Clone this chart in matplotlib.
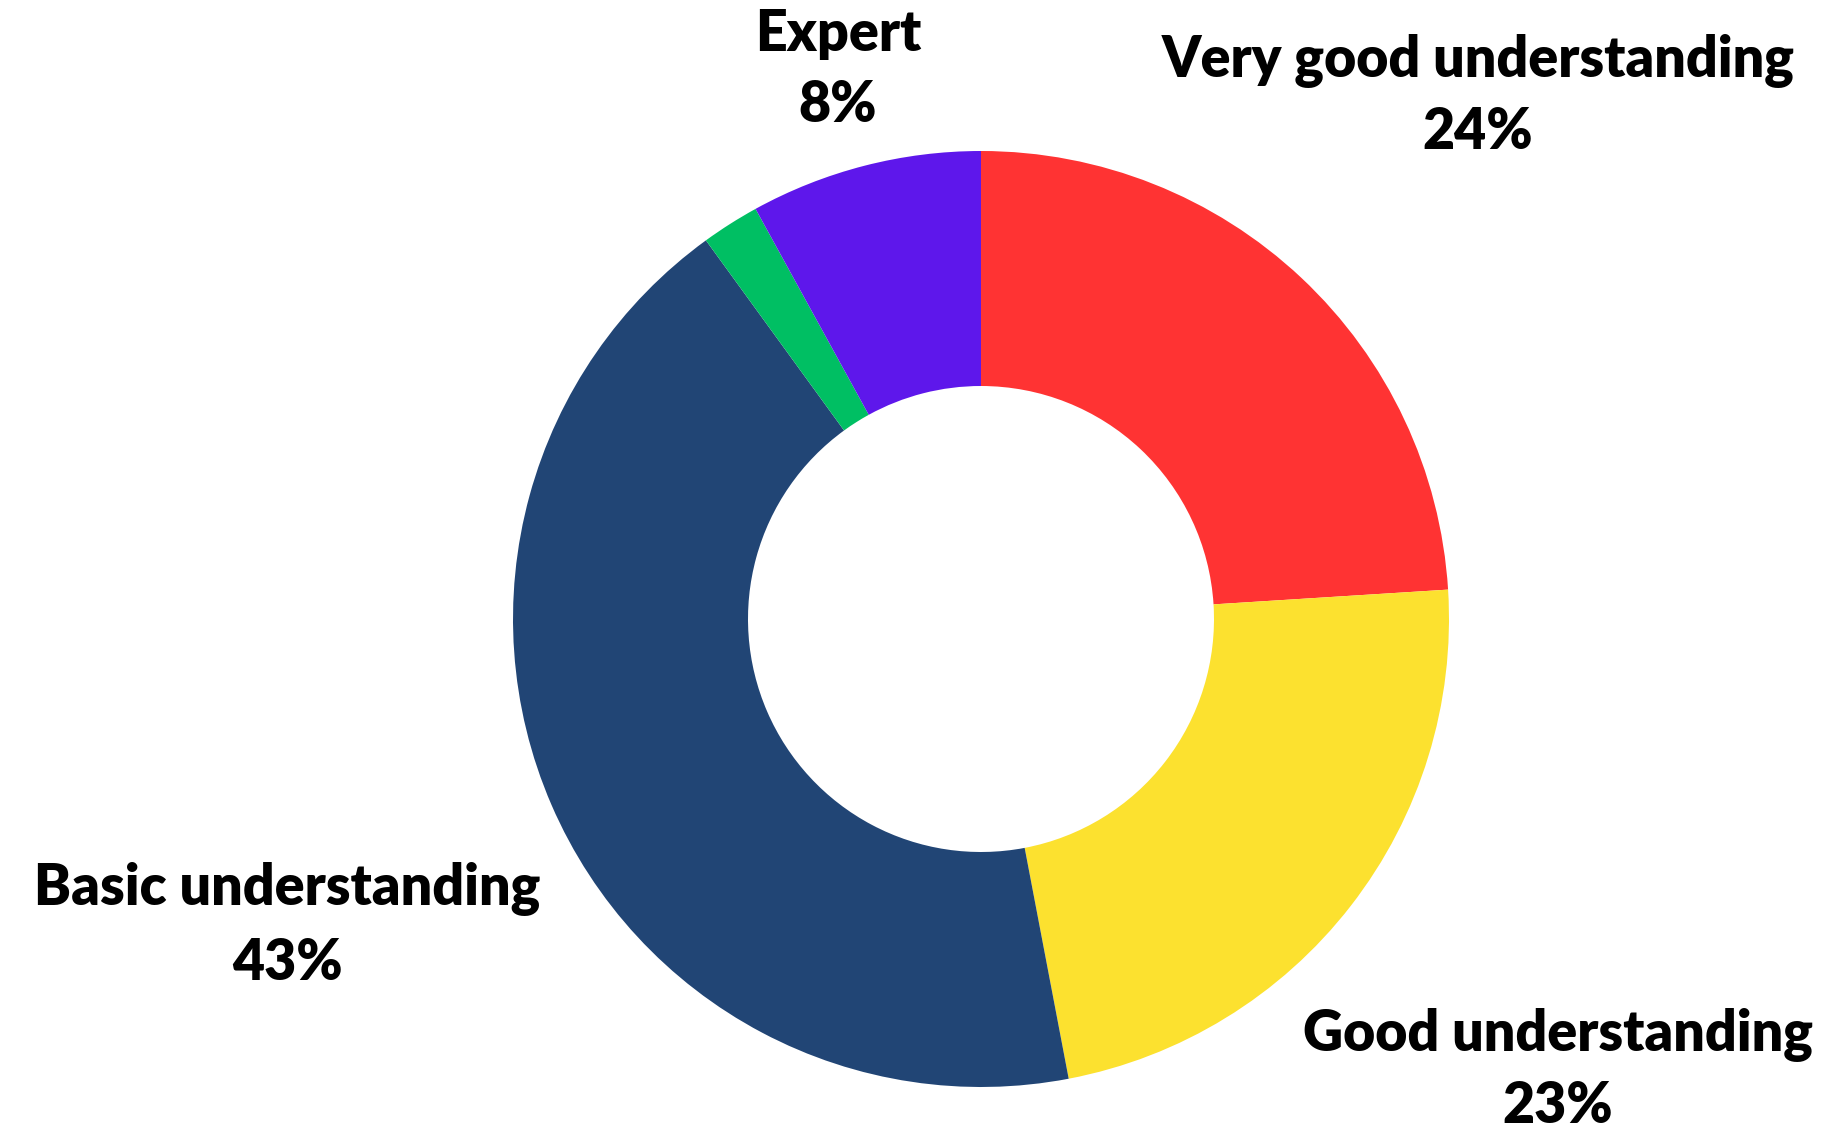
import matplotlib
matplotlib.use("Agg")
import matplotlib.pyplot as plt

# Survey results: level of understanding
categories = ["Very good understanding", "Good understanding", "Basic understanding", "No understanding", "Expert"]
values = [24, 23, 43, 2, 8]
colors = ["#FF3333", "#FCE12F", "#214575", "#00BF63", "#5E17EB"]
show_label = [True, True, True, False, True]

W, H = 1825, 1131
fig = plt.figure(figsize=(W / 100, H / 100), dpi=100)
ax = fig.add_axes([0, 0, 1, 1])
ax.set_xlim(0, W)
ax.set_ylim(0, H)
ax.set_aspect("equal")
ax.axis("off")

cx, cy, r_out, r_in = 981, H - 619, 468, 233
ax.pie(values, colors=colors, startangle=90, counterclock=False,
       center=(cx, cy), radius=r_out,
       wedgeprops=dict(width=r_out - r_in, linewidth=0))
ax.set_xlim(0, W)
ax.set_ylim(0, H)

# label anchors in pixel space (x centre, name baseline, percent baseline)
label_pos = {
    "Very good understanding": (1478, 77, 149),
    "Good understanding": (1558, 1051, 1123),
    "Basic understanding": (287, 905, 980),
    "Expert": (838, 51, 122),
}

font = dict(family=["Lato", "DejaVu Sans"], fontweight="heavy", fontsize=40, color="black")
for name, val, show in zip(categories, values, show_label):
    if not show:
        continue
    x, yb1, yb2 = label_pos[name]
    ax.text(x, H - yb1, name, ha="center", va="baseline", **font)
    ax.text(x, H - yb2, f"{val}%", ha="center", va="baseline", **font)

fig.savefig("out.png", dpi=100, facecolor="white")
